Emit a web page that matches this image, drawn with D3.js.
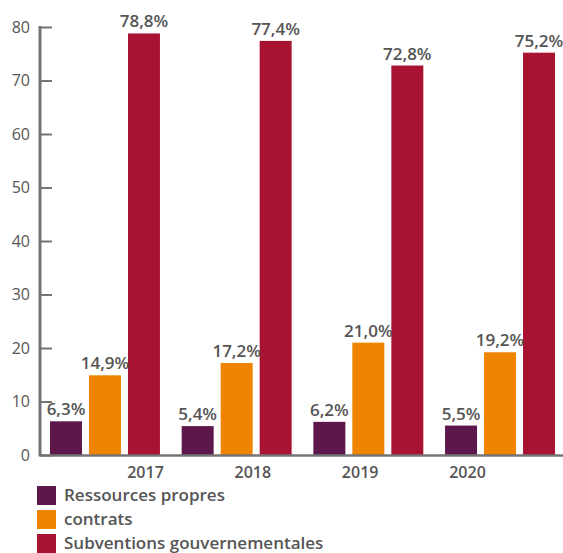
<!DOCTYPE html>
<html>
<head>
<meta charset="utf-8">
<script src="https://cdn.jsdelivr.net/npm/d3@7"></script>
<style>
  html, body { margin: 0; padding: 0; background: #fff; }
  svg { display: block; font-family: "Open Sans", sans-serif; }
</style>
</head>
<body>
<svg id="chart" width="563" height="553"></svg>
<script>
// Funding breakdown by year (percent of total)
const years = ["2017", "2018", "2019", "2020"];
const seriesNames = ["Ressources propres", "contrats", "Subventions gouvernementales"];
const ressourcesPropres = [6.3, 5.4, 6.2, 5.5];
const contrats = [14.9, 17.2, 21.0, 19.2];
const subventions = [78.8, 77.4, 72.8, 75.2];
const yTicks = [0, 10, 20, 30, 40, 50, 60, 70, 80];
const colors = ["#5d174b", "#f08300", "#a81332"];

const seriesValues = [ressourcesPropres, contrats, subventions];
const rows = years.map((yr, i) => ({
  year: yr,
  values: seriesNames.map((s, k) => ({ key: s, idx: k, value: seriesValues[k][i] }))
}));

const svg = d3.select("#chart");
const axisColor = "#747474";
const textColor = "#555555";

const y = d3.scaleLinear().domain([0, 80]).range([455, 27]);
const x0 = d3.scaleBand().domain(years).range([50, 555]).paddingInner(0.165).paddingOuter(0);
const x1 = d3.scaleBand().domain(seriesNames).range([0, x0.bandwidth()]).paddingInner(0.18);
const xLabel = d3.scalePoint().domain(years).range([145, 467]);

// Bars
const groups = svg.append("g").selectAll("g")
  .data(rows).join("g")
  .attr("transform", d => `translate(${x0(d.year)},0)`);

groups.selectAll("rect")
  .data(d => d.values).join("rect")
  .attr("x", d => x1(d.key))
  .attr("width", x1.bandwidth())
  .attr("y", d => y(d.value))
  .attr("height", d => y(0) - y(d.value))
  .attr("fill", d => colors[d.idx]);

// Value labels
groups.selectAll("text")
  .data(d => d.values).join("text")
  .attr("x", d => x1(d.key) + x1.bandwidth() / 2)
  .attr("y", d => y(d.value) - 6)
  .attr("text-anchor", "middle")
  .attr("fill", textColor)
  .attr("font-size", 17)
  .attr("font-weight", 600)
  .text(d => d.value.toFixed(1).replace(".", ",") + "%");

// Y axis
const yAxis = d3.axisLeft(y).tickValues(yTicks).tickSize(-12).tickPadding(10);
const gy = svg.append("g").attr("transform", "translate(40,0)").call(yAxis);
gy.select(".domain").remove();
gy.selectAll(".tick line").attr("stroke", axisColor).attr("stroke-width", 2);
gy.selectAll(".tick text")
  .attr("fill", textColor)
  .attr("font-size", 16)
  .attr("font-family", "Open Sans, sans-serif");
svg.append("line")
  .attr("x1", 40).attr("x2", 40)
  .attr("y1", y(80) - 1).attr("y2", y(0) + 1.5)
  .attr("stroke", axisColor).attr("stroke-width", 3);

// X axis
svg.append("line")
  .attr("x1", 40).attr("x2", 563)
  .attr("y1", y(0) + 0.5).attr("y2", y(0) + 0.5)
  .attr("stroke", axisColor).attr("stroke-width", 2.5);
const xAxis = d3.axisBottom(xLabel).tickSize(0).tickPadding(12);
const gx = svg.append("g").attr("transform", `translate(0,${y(0)})`).call(xAxis);
gx.select(".domain").remove();
gx.selectAll(".tick text")
  .attr("fill", textColor)
  .attr("font-size", 16)
  .attr("font-weight", 600)
  .attr("font-family", "Open Sans, sans-serif");

// Legend
const legend = svg.append("g").attr("transform", "translate(37,486)");
const items = legend.selectAll("g")
  .data(seriesNames).join("g")
  .attr("transform", (d, i) => `translate(0,${i * 24})`);
items.append("rect")
  .attr("width", 19).attr("height", 19)
  .attr("fill", (d, i) => colors[i]);
items.append("text")
  .attr("x", 27).attr("y", 9.5)
  .attr("dy", "0.35em")
  .attr("fill", textColor)
  .attr("font-size", 17)
  .attr("font-weight", 600)
  .text(d => d);
</script>
</body>
</html>
